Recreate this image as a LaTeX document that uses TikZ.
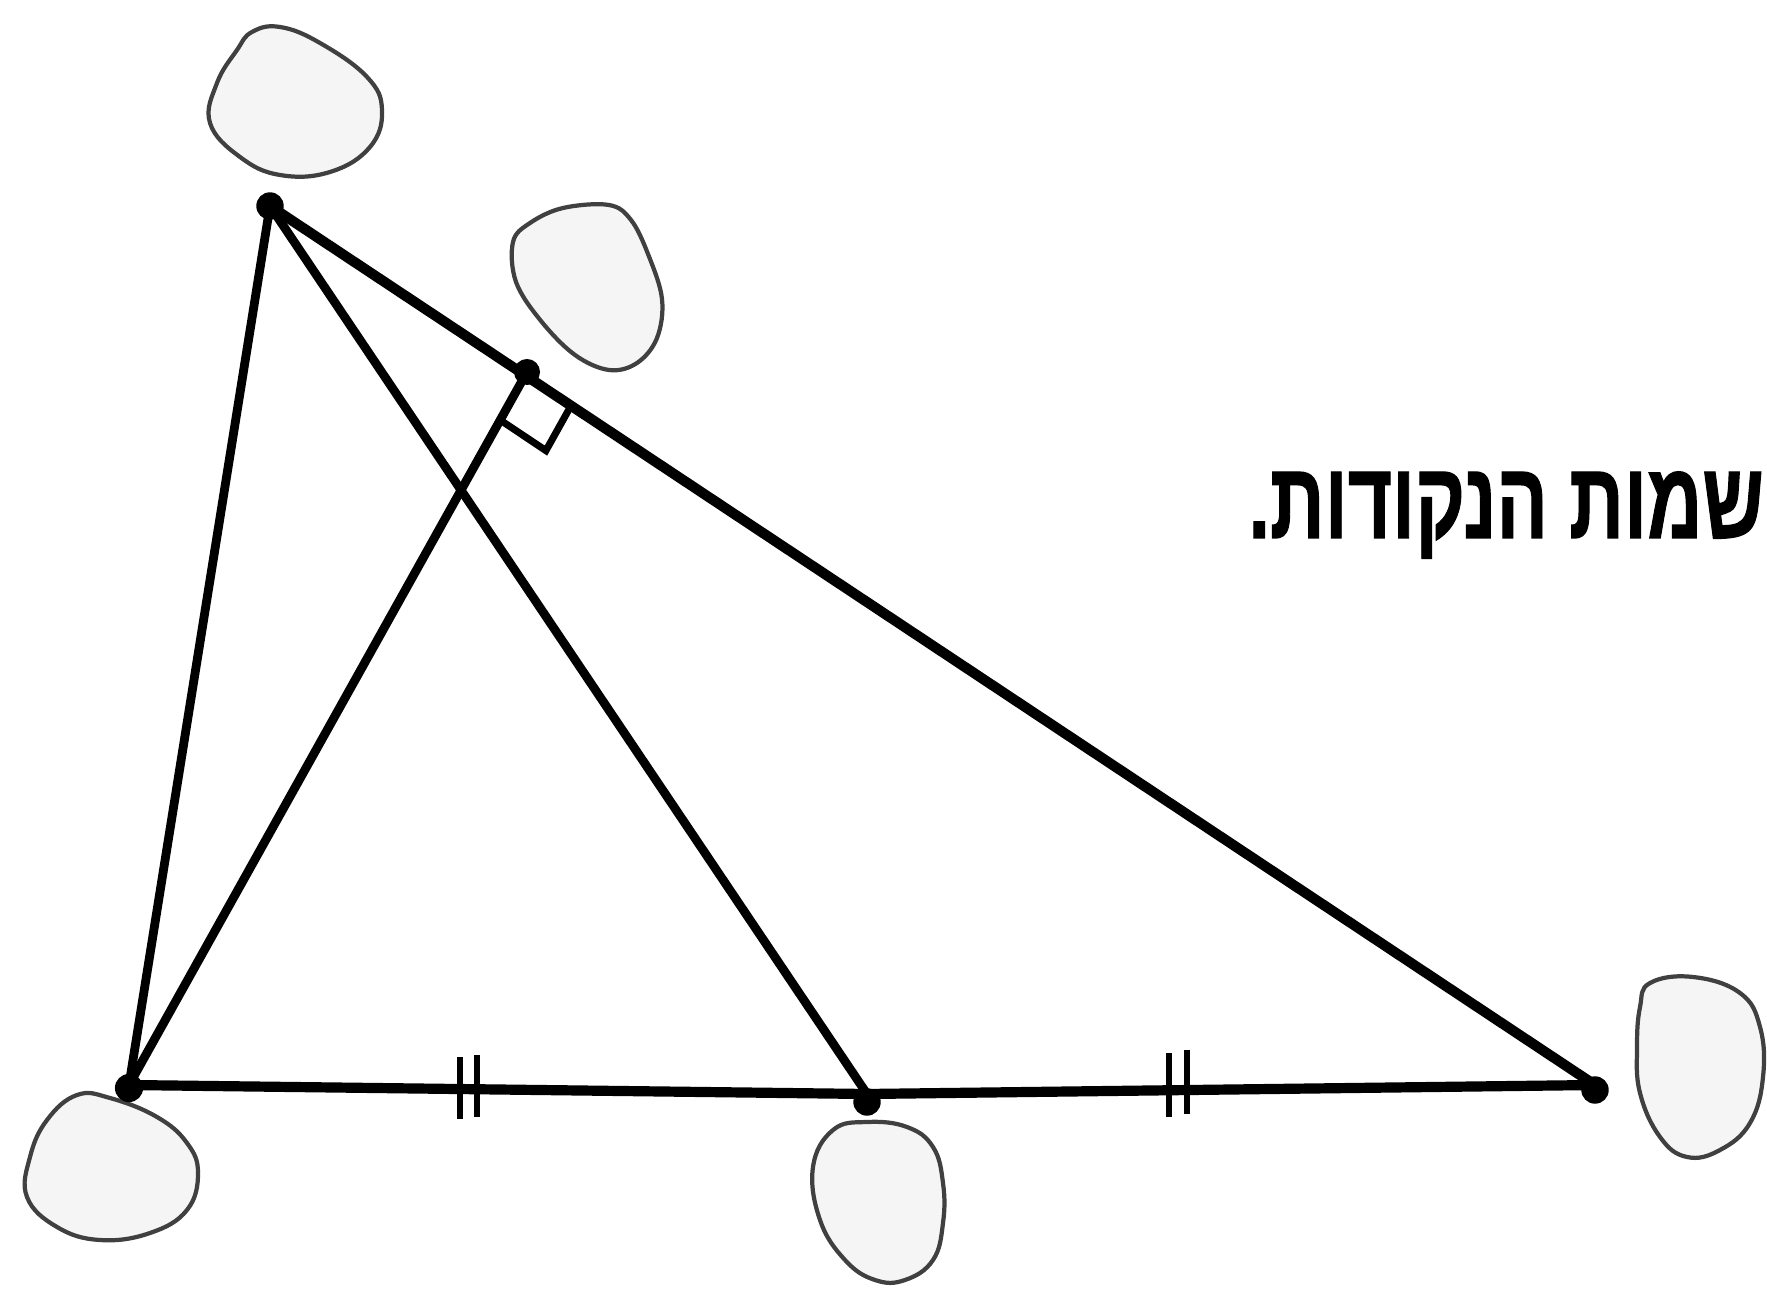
\documentclass[tikz,border=0pt]{standalone}
\usepackage{fontspec}
\usepackage{graphicx}
\newfontfamily\hebfont[Script=Hebrew,BoldFeatures={FakeBold=1.2}]{Liberation Sans}
\TeXXeTstate=1
\usetikzlibrary{calc}
\tikzset{
  seg/.style={line width=2.9pt, line cap=round},
  thinseg/.style={line width=2.5pt, line cap=round},
  tick/.style={line width=1.9pt},
  blob/.style={draw=black!75, line width=1.2pt, fill=black!4},
  vdot/.style={fill=black}
}
\begin{document}
\begin{tikzpicture}[x=0.01cm,y=-0.01cm]
\useasboundingbox (0,0) rectangle (1767,1292);
% points
\coordinate (A) at (270,206);
\coordinate (H) at (527,372);
\coordinate (B) at (129,1085);
\coordinate (M) at (867,1094);
\coordinate (C) at (1595,1085);
% blobs
\draw[blob] plot[smooth cycle, tension=0.7] coordinates {(252,32) (280,27) (320,43) (367,77) (382,110) (370,147) (330,172) (280,175) (240,157) (210,123) (217,83) (237,50)};
\draw[blob] plot[smooth cycle, tension=0.6] coordinates {(530,223) (563,208) (609,205) (631,220) (648,254) (662,299) (657,338) (637,363) (609,370) (575,355) (541,321) (516,282) (513,242)};
\draw[blob] plot[smooth cycle, tension=0.7] coordinates {(77,1095) (110,1098) (157,1117) (187,1143) (198,1173) (187,1210) (150,1233) (100,1240) (57,1227) (27,1197) (30,1157) (47,1120)};
\draw[blob] plot[smooth cycle, tension=0.7] coordinates {(833,1130) (867,1122) (907,1127) (933,1147) (943,1183) (943,1223) (933,1260) (905,1280) (875,1280) (845,1260) (820,1220) (813,1167)};
\draw[blob] plot[smooth cycle, tension=0.7] coordinates {(1650,983) (1693,977) (1740,993) (1760,1027) (1763,1077) (1750,1123) (1720,1150) (1687,1157) (1660,1137) (1640,1093) (1637,1047) (1640,1007)};
% lines
\draw[thinseg] (A) -- (B);
\draw[thinseg] (A) -- (M);
\draw[seg] (A) -- (C);
\draw[seg] (B) -- (M) -- (C);
\draw[thinseg] (B) -- (H);
% right angle marker
\coordinate (P1) at ($(H)!0.55cm!(B)$);
\coordinate (P3) at ($(H)!0.55cm!(C)$);
\coordinate (P2) at ($(P1)+(P3)-(H)$);
\draw[line width=2pt] (P1) -- (P2) -- (P3);
% ticks
\draw[tick] (460,1057) -- (460,1119);
\draw[tick] (477,1055) -- (477,1117);
\draw[tick] (1169,1053) -- (1169,1117);
\draw[tick] (1187,1050) -- (1187,1114);
% dots
\fill[vdot] (A) circle[radius=3.9pt];
\fill[vdot] (H) circle[radius=3.7pt];
\fill[vdot] ($(B)+(0,3)$) circle[radius=4pt];
\fill[vdot] ($(M)+(0,8)$) circle[radius=3.9pt];
\fill[vdot] ($(C)+(0,5)$) circle[radius=3.9pt];
% text
\node[anchor=base west, inner sep=0pt, font=\hebfont\bfseries\fontsize{31}{36}\selectfont] (txt) at (1248,538) {\scalebox{0.7}[1]{\beginR שמות הנקודות.\endR}};
\end{tikzpicture}
\end{document}
